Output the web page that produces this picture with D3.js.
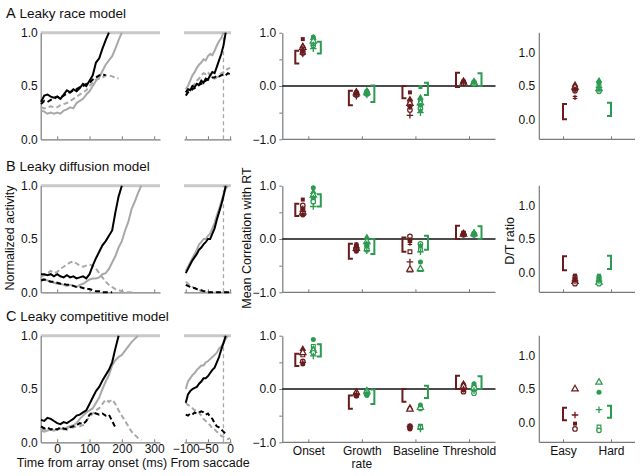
<!DOCTYPE html>
<html><head><meta charset="utf-8">
<script src="https://cdn.jsdelivr.net/npm/d3@7"></script>
<style>
body{margin:0;background:#fff}
text{font-family:"Liberation Sans",Arial,Helvetica,sans-serif;fill:#111}
</style></head>
<body><svg id="c" width="641" height="476"></svg>
<script>
// ---------------- DATA ----------------
const rowTitles = [["A","Leaky race model"],["B","Leaky diffusion model"],["C","Leaky competitive model"]];
const categories = ["Onset","Growth","Baseline","Threshold"];
const categorySubLabels = ["","rate","",""];
const difficulty = ["Easy","Hard"];
const activityTicks = [0,0.5,1];
const timeTicks = [0,100,200,300];
const saccadeTicks = [-100,-50,0];
const corrTicks = [-1,-0.5,0,0.5,1];
const ratioTicks = [0,0.5,1];
const markerShapes = ["square","squareOpen","triangle","triangleOpen","circleOpen","circle","plus","star"];

// activity traces aligned on array onset: start -50 ms, 10 ms step
const leftStart = -50, leftStep = 10;
const raceBlack = [0.35,0.41,0.42,0.40,0.39,0.40,0.38,0.42,0.46,0.44,0.47,0.45,0.48,0.52,0.50,0.55,0.60,0.72,0.76,0.85,0.93,1.0];
const raceGray = [0.27,0.26,0.24,0.25,0.24,0.25,0.24,0.27,0.28,0.30,0.29,0.34,0.36,0.38,0.42,0.45,0.50,0.55,0.58,0.64,0.70,0.74,0.78,0.85,0.93,1.0];
const raceBlackDash = [0.33,0.36,0.35,0.37,0.38,0.40,0.39,0.41,0.43,0.44,0.46,0.47,0.49,0.50,0.52,0.53,0.56,0.58,0.60,0.61,0.60];
const raceGrayDash = [0.30,0.29,0.30,0.31,0.30,0.30,0.32,0.33,0.34,0.36,0.38,0.40,0.42,0.44,0.46,0.50,0.53,0.56,0.57,0.58,0.60,0.60,0.59,0.58,0.57];

const diffBlack = [0.17,0.17,0.16,0.17,0.15,0.17,0.15,0.14,0.16,0.14,0.15,0.13,0.14,0.15,0.13,0.17,0.25,0.32,0.38,0.44,0.48,0.53,0.58,0.75,0.90,1.0];
const diffGray = [0.13,0.12,0.11,0.10,0.09,0.08,0.08,0.07,0.06,0.07,0.06,0.05,0.07,0.08,0.10,0.12,0.13,0.13,0.14,0.17,0.18,0.22,0.28,0.34,0.42,0.48,0.58,0.66,0.78,0.85,0.93,1.0];
const diffBlackDash = [0.11,0.12,0.11,0.10,0.10,0.09,0.08,0.08,0.07,0.07,0.06,0.05,0.05,0.04,0.03,0.03,0.02,0.01,0.01,0.0,0.0,0.0,0.0];
const diffGrayDash = [0.15,0.16,0.18,0.20,0.18,0.19,0.22,0.24,0.26,0.28,0.29,0.27,0.25,0.24,0.25,0.26,0.25,0.22,0.18,0.14,0.10,0.07,0.05,0.03,0.02,0.01,0.0,0.0,0.0];

const compBlack = [0.21,0.20,0.23,0.22,0.20,0.18,0.17,0.19,0.18,0.20,0.22,0.25,0.26,0.28,0.30,0.36,0.42,0.48,0.52,0.58,0.63,0.68,0.75,0.88,1.0];
const compGray = [0.11,0.10,0.11,0.12,0.11,0.12,0.13,0.12,0.14,0.15,0.16,0.18,0.22,0.25,0.28,0.30,0.32,0.37,0.42,0.50,0.57,0.63,0.72,0.77,0.80,0.82,0.86,0.90,0.94,0.97,1.0];
const compBlackDash = [0.15,0.13,0.14,0.12,0.13,0.12,0.14,0.13,0.12,0.14,0.15,0.16,0.18,0.17,0.20,0.26,0.28,0.27,0.26,0.27,0.25,0.26,0.20,0.14];
const compGrayDash = [0.13,0.12,0.13,0.12,0.13,0.12,0.13,0.12,0.13,0.14,0.14,0.15,0.15,0.16,0.20,0.24,0.27,0.30,0.32,0.36,0.40,0.38,0.40,0.36,0.30,0.25,0.20,0.15,0.10,0.07,0.04,0.02];

// activity traces aligned on saccade: start -100 ms, 5 ms step
const sacStart = -100, sacStep = 5;
const raceSacBlack = [0.44,0.47,0.46,0.50,0.49,0.52,0.51,0.55,0.53,0.57,0.56,0.60,0.63,0.62,0.68,0.74,0.80,0.88,1.0];
const raceSacGray = [0.47,0.50,0.55,0.60,0.63,0.67,0.70,0.72,0.75,0.74,0.78,0.80,0.79,0.83,0.88,0.92,0.95,1.0];
const raceSacBlackDash = [0.41,0.44,0.45,0.47,0.48,0.50,0.51,0.52,0.53,0.55,0.56,0.57,0.58,0.58,0.60,0.59,0.60,0.61,0.60,0.62,0.61];
const raceSacGrayDash = [0.44,0.46,0.48,0.50,0.52,0.55,0.57,0.60,0.62,0.61,0.63,0.60,0.58,0.57,0.58,0.60,0.62,0.63,0.65,0.66,0.67];

const diffSacBlack = [0.18,0.22,0.26,0.30,0.33,0.36,0.40,0.42,0.45,0.47,0.50,0.50,0.55,0.60,0.68,0.75,0.82,0.90,1.0];
const diffSacGray = [0.20,0.24,0.28,0.32,0.36,0.40,0.45,0.47,0.50,0.50,0.53,0.55,0.60,0.65,0.72,0.78,0.85,0.92,0.97,1.0];
const diffSacBlackDash = [0.07,0.06,0.05,0.04,0.04,0.03,0.02,0.02,0.01,0.01,0.0,0.0,0.0,0.0,0.0,0.0,0.0,0.0,0.0,0.0,0.0];
const diffSacGrayDash = [0.10,0.08,0.06,0.05,0.04,0.03,0.02,0.01,0.01,0.0,0.0,0.0,0.0,0.0,0.0,0.0,0.0,0.0,0.0,0.0,0.0];

const compSacBlack = [0.37,0.45,0.48,0.50,0.51,0.52,0.55,0.57,0.60,0.60,0.62,0.65,0.68,0.70,0.75,0.80,0.87,0.93,1.0];
const compSacGray = [0.50,0.57,0.60,0.63,0.65,0.68,0.70,0.72,0.72,0.75,0.76,0.78,0.80,0.82,0.84,0.88,0.90,0.93,0.97,1.0];
const compSacBlackDash = [0.26,0.25,0.27,0.26,0.28,0.27,0.28,0.29,0.28,0.26,0.27,0.24,0.22,0.18,0.15,0.14,0.12,0.10,0.08];
const compSacGrayDash = [0.37,0.35,0.34,0.32,0.30,0.30,0.28,0.25,0.22,0.20,0.18,0.16,0.13,0.12,0.10,0.08,0.06,0.05,0.04,0.03,0.04];

const saccadeMarkTime = -15;

// correlation with RT: per category, one value per marker shape (easy = brown, hard = green)
const raceCorrEasy = [[0.88,0.68,0.75,0.72,0.62,0.66,0.60,0.70],[-0.12,-0.15,-0.10,-0.13,-0.17,-0.14,-0.19,-0.12],[-0.12,-0.30,-0.25,-0.33,-0.45,-0.38,-0.55,-0.40],[0.08,0.06,0.10,0.07,0.05,0.09,0.06,0.08]];
const raceCorrHard = [[0.86,0.80,0.90,0.84,0.76,0.92,0.70,0.78],[-0.10,-0.13,-0.09,-0.12,-0.15,-0.11,-0.17,-0.14],[-0.02,-0.28,-0.22,-0.32,-0.42,-0.36,-0.50,-0.46],[0.07,0.05,0.09,0.06,0.04,0.08,0.05,0.07]];
const diffCorrEasy = [[0.74,0.55,0.47,0.50,0.63,0.45,0.52,0.58],[-0.10,-0.15,-0.13,-0.18,-0.20,-0.23,-0.17,-0.12],[-0.04,-0.24,-0.59,-0.57,0.05,-0.02,-0.43,-0.08],[0.12,0.10,0.11,0.09,0.08,0.10,0.09,0.11]];
const diffCorrHard = [[0.80,0.75,0.88,0.82,0.70,0.96,0.61,0.78],[-0.10,-0.15,0.03,-0.05,-0.20,-0.12,-0.22,-0.08],[-0.15,-0.20,-0.58,-0.56,-0.09,-0.43,-0.24,-0.12],[0.11,0.09,0.12,0.10,0.08,0.10,0.09,0.07]];
const compCorrEasy = [[0.70,0.64,0.75,0.68,0.52,0.47,0.50,null],[-0.08,-0.10,-0.05,-0.07,-0.12,-0.13,-0.09,null],[-0.37,-0.70,-0.35,-0.38,-0.72,-0.75,-0.70,null],[0.08,0.03,0.10,0.05,-0.05,-0.02,0.0,null]];
const compCorrHard = [[0.78,0.80,0.75,0.72,0.68,0.93,0.62,null],[-0.06,-0.08,-0.02,-0.05,-0.10,-0.12,-0.07,null],[-0.38,-0.70,-0.33,-0.35,-0.72,-0.30,-0.75,null],[0.06,0.0,0.08,0.03,-0.08,0.10,-0.03,null]];

// observed ranges (brackets) [low, high] per category
const raceCorrEasyRange = [[0.42,0.66],[-0.36,-0.09],[-0.23,0.0],[-0.02,0.25]];
const raceCorrHardRange = [[0.61,0.83],[-0.30,0.01],[-0.17,0.06],[0.0,0.24]];
const diffCorrEasyRange = [[0.43,0.66],[-0.37,-0.09],[-0.24,0.03],[0.0,0.25]];
const diffCorrHardRange = [[0.61,0.84],[-0.28,0.0],[-0.20,0.06],[0.0,0.24]];
const compCorrEasyRange = [[0.43,0.66],[-0.37,-0.12],[-0.24,0.0],[0.0,0.25]];
const compCorrHardRange = [[0.61,0.84],[-0.28,-0.01],[-0.17,0.06],[0.0,0.24]];

// D/T ratio, per marker shape
const raceRatioEasy = [0.50,0.47,0.52,0.48,0.43,0.45,0.44,0.33];
const raceRatioHard = [0.54,0.50,0.58,0.46,0.42,0.56,0.48,0.44];
const diffRatioEasy = [-0.05,-0.08,-0.11,-0.14,-0.17,-0.10,-0.13,-0.06];
const diffRatioHard = [-0.05,-0.08,-0.12,-0.15,-0.17,-0.10,-0.13,-0.07];
const compRatioEasy = [-0.02,null,null,0.50,-0.10,null,0.11,null];
const compRatioHard = [null,-0.07,null,0.60,-0.12,0.45,0.19,null];
const raceRatioRange = [[0.0,0.23],[0.05,0.25]];
const diffRatioRange = [[0.03,0.24],[0.05,0.25]];
const compRatioRange = [[0.03,0.22],[0.07,0.25]];

// ---------------- DRAWING ----------------
const rows = [
 {left:[raceBlack,raceGray,raceBlackDash,raceGrayDash], sac:[raceSacBlack,raceSacGray,raceSacBlackDash,raceSacGrayDash],
  ce:raceCorrEasy, ch:raceCorrHard, cer:raceCorrEasyRange, chr:raceCorrHardRange, re:raceRatioEasy, rh:raceRatioHard, rr:raceRatioRange},
 {left:[diffBlack,diffGray,diffBlackDash,diffGrayDash], sac:[diffSacBlack,diffSacGray,diffSacBlackDash,diffSacGrayDash],
  ce:diffCorrEasy, ch:diffCorrHard, cer:diffCorrEasyRange, chr:diffCorrHardRange, re:diffRatioEasy, rh:diffRatioHard, rr:diffRatioRange},
 {left:[compBlack,compGray,compBlackDash,compGrayDash], sac:[compSacBlack,compSacGray,compSacBlackDash,compSacGrayDash],
  ce:compCorrEasy, ch:compCorrHard, cer:compCorrEasyRange, chr:compCorrHardRange, re:compRatioEasy, rh:compRatioHard, rr:compRatioRange}
];

const BROWN = "#6a1c1c", GREEN = "#2c9a50", AXIS = "#7a7a7a";
const traceStyles = [
  {c:"#000", d:null}, {c:"#a8a8a8", d:null}, {c:"#000", d:"5,3"}, {c:"#a8a8a8", d:"5,3"}
];
const svg = d3.select("#c");
const rowTop = [32.7, 185.7, 335.7], H = 106.6;
const xL = d3.scaleLinear().domain([-51,318]).range([40.7,160]);
const xS = d3.scaleLinear().domain([-104,2]).range([184,231]);
const xC = d3.scalePoint().domain(categories).range([308.3,469]);
const xD = d3.scalePoint().domain(difficulty).range([563,611]);
const fmt = d3.format(".1f");

function styleAxis(g){
  g.selectAll("path.domain").attr("stroke",AXIS).attr("stroke-width",1.2);
  g.selectAll(".tick line").attr("stroke",AXIS);
  g.selectAll("text").attr("font-size",12).attr("fill","#111")
   .style("font-family",'"Liberation Sans",Arial,sans-serif');
}

function marker(g, shape, x, y, color){
  let type, filled = true, stroke = false, size = 18;
  switch(shape){
    case "square": type=d3.symbolSquare; size=16; break;
    case "squareOpen": type=d3.symbolSquare; filled=false; size=14; break;
    case "triangle": type=d3.symbolTriangle; size=20; break;
    case "triangleOpen": type=d3.symbolTriangle; filled=false; size=18; break;
    case "circleOpen": type=d3.symbolCircle; filled=false; size=16; break;
    case "circle": type=d3.symbolCircle; size=20; break;
    case "plus": type=d3.symbolPlus; stroke=true; size=16; break;
    case "star": type=d3.symbolAsterisk; stroke=true; size=18; break;
  }
  const p = g.append("path").attr("d", d3.symbol().type(type).size(size)())
    .attr("transform",`translate(${x},${y})`);
  if(stroke){ p.attr("fill","none").attr("stroke",color).attr("stroke-width",1.3); }
  else if(filled){ p.attr("fill",color).attr("stroke","none"); }
  else { p.attr("fill","#fff").attr("stroke",color).attr("stroke-width",1.2); }
}

function bracket(g, x, y1, y2, dir, color){
  g.append("path").attr("d",`M${x+4*dir},${y1}H${x}V${y2}H${x+4*dir}`)
   .attr("fill","none").attr("stroke",color).attr("stroke-width",2);
}

rows.forEach((row, r) => {
  const top = rowTop[r], bot = top + H;
  const g = svg.append("g");
  // title
  const t = g.append("text").attr("x",6).attr("y",top-14.5).attr("font-size",13.5);
  t.append("tspan").text(rowTitles[r][0]).attr("font-size",14.5);
  t.append("tspan").text(" " + rowTitles[r][1]);

  const yT = d3.scaleLinear().domain([0,1]).range([bot, top]);
  const lineFn = (x0, step, xs) => d3.line().x((d,i)=>xs(x0+i*step)).y(d=>yT(d));

  // threshold lines
  g.append("line").attr("x1",xL.range()[0]).attr("x2",xL.range()[1]).attr("y1",yT(1)).attr("y2",yT(1))
    .attr("stroke","#c9c9c9").attr("stroke-width",3);
  g.append("line").attr("x1",xS.range()[0]).attr("x2",xS.range()[1]).attr("y1",yT(1)).attr("y2",yT(1))
    .attr("stroke","#c9c9c9").attr("stroke-width",3);

  // left plot axes
  const ax1 = g.append("g").attr("transform",`translate(${xL.range()[0]},0)`)
    .call(d3.axisLeft(yT).tickValues(activityTicks).tickFormat(fmt).tickSize(0).tickPadding(3));
  styleAxis(ax1);
  const bx1 = g.append("g").attr("transform",`translate(0,${bot})`)
    .call(d3.axisBottom(xL).tickValues(timeTicks).tickSizeInner(-3).tickSizeOuter(0).tickPadding(2));
  styleAxis(bx1);
  if(r<2) bx1.selectAll("text").remove();
  const bx2 = g.append("g").attr("transform",`translate(0,${bot})`)
    .call(d3.axisBottom(xS).tickValues(saccadeTicks).tickSizeInner(-3).tickSizeOuter(0).tickPadding(2));
  styleAxis(bx2);
  if(r<2) bx2.selectAll("text").remove();

  // saccade marker line
  g.append("line").attr("x1",xS(saccadeMarkTime)).attr("x2",xS(saccadeMarkTime)).attr("y1",yT(0)).attr("y2",yT(1))
    .attr("stroke","#a8a8a8").attr("stroke-width",1.3).attr("stroke-dasharray","4,3");

  // traces (draw gray first so black on top)
  [1,3,0,2].forEach(k => {
    const st = traceStyles[k];
    g.append("path").attr("d", lineFn(leftStart,leftStep,xL)(row.left[k]))
      .attr("fill","none").attr("stroke",st.c).attr("stroke-width",2).attr("stroke-dasharray",st.d);
    g.append("path").attr("d", lineFn(sacStart,sacStep,xS)(row.sac[k]))
      .attr("fill","none").attr("stroke",st.c).attr("stroke-width",2).attr("stroke-dasharray",st.d);
  });

  // correlation plot
  const yC = d3.scaleLinear().domain([-1,1]).range([bot, top]);
  const lax = g.append("g").attr("transform","translate(282.3,0)")
    .call(d3.axisLeft(yC).tickValues(corrTicks).tickSizeInner(3).tickSizeOuter(0).tickPadding(3)
      .tickFormat(d => Math.abs(d)===0.5 ? "" : fmt(d)));
  styleAxis(lax);
  g.append("line").attr("x1",282.3).attr("x2",495.5).attr("y1",yC(-1)).attr("y2",yC(-1))
    .attr("stroke",AXIS).attr("stroke-width",1.2);
  const cbx = g.append("g").attr("transform",`translate(0,${yC(-1)})`)
    .call(d3.axisBottom(xC).tickSizeInner(-3).tickSizeOuter(0).tickPadding(4));
  cbx.select("path.domain").remove();
  styleAxis(cbx);
  if(r<2) cbx.selectAll("text").remove();
  else {
    categories.forEach((c,ci) => {
      if(categorySubLabels[ci]) g.append("text").attr("x",xC(c)).attr("y",yC(-1)+25.5)
        .attr("text-anchor","middle").attr("font-size",12).text(categorySubLabels[ci]);
    });
  }
  g.append("line").attr("x1",282.3).attr("x2",495.5).attr("y1",yC(0)).attr("y2",yC(0))
    .attr("stroke","#111").attr("stroke-width",1.3);

  categories.forEach((c, ci) => {
    const cx = xC(c);
    bracket(g, cx-13, yC(row.cer[ci][1]), yC(row.cer[ci][0]), 1, BROWN);
    bracket(g, cx+12.5, yC(row.chr[ci][1]), yC(row.chr[ci][0]), -1, GREEN);
    row.ce[ci].forEach((v, k) => { if(v!==null) marker(g, markerShapes[k], cx-5.5, yC(v), BROWN); });
    row.ch[ci].forEach((v, k) => { if(v!==null) marker(g, markerShapes[k], cx+5, yC(v), GREEN); });
  });

  // D/T ratio plot
  const yD = d3.scaleLinear().domain([-0.3,1.3]).range([bot, top]);
  const dax = g.append("g").attr("transform","translate(539.3,0)")
    .call(d3.axisLeft(yD).tickValues(ratioTicks).tickFormat(fmt).tickSize(0).tickPadding(4));
  styleAxis(dax);
  dax.select("path.domain").attr("d",`M0,${top}V${bot}`);
  g.append("line").attr("x1",539.3).attr("x2",635).attr("y1",bot).attr("y2",bot)
    .attr("stroke",AXIS).attr("stroke-width",1.2);
  const dbx = g.append("g").attr("transform",`translate(0,${bot})`)
    .call(d3.axisBottom(xD).tickSizeInner(-3).tickSizeOuter(0).tickPadding(4));
  dbx.select("path.domain").remove();
  styleAxis(dbx);
  if(r<2) dbx.selectAll("text").remove();

  bracket(g, xD("Easy"), yD(row.rr[0][1]), yD(row.rr[0][0]), 1, BROWN);
  bracket(g, xD("Hard"), yD(row.rr[1][1]), yD(row.rr[1][0]), -1, GREEN);
  row.re.forEach((v,k)=>{ if(v!==null) marker(g, markerShapes[k], xD("Easy")+12, yD(v), BROWN); });
  row.rh.forEach((v,k)=>{ if(v!==null) marker(g, markerShapes[k], xD("Hard")-12, yD(v), GREEN); });
});

// axis titles
svg.append("text").attr("transform","translate(14,238) rotate(-90)").attr("text-anchor","middle")
  .attr("font-size",12.5).text("Normalized activity");
svg.append("text").attr("transform","translate(251,238) rotate(-90)").attr("text-anchor","middle")
  .attr("font-size",12.5).text("Mean Correlation with RT");
svg.append("text").attr("transform","translate(514,241) rotate(-90)").attr("text-anchor","middle")
  .attr("font-size",12.5).text("D/T ratio");
svg.append("text").attr("x",92).attr("y",467).attr("text-anchor","middle")
  .attr("font-size",12.5).text("Time from array onset (ms)");
svg.append("text").attr("x",210).attr("y",467).attr("text-anchor","middle")
  .attr("font-size",12.5).text("From saccade");
</script></body></html>
